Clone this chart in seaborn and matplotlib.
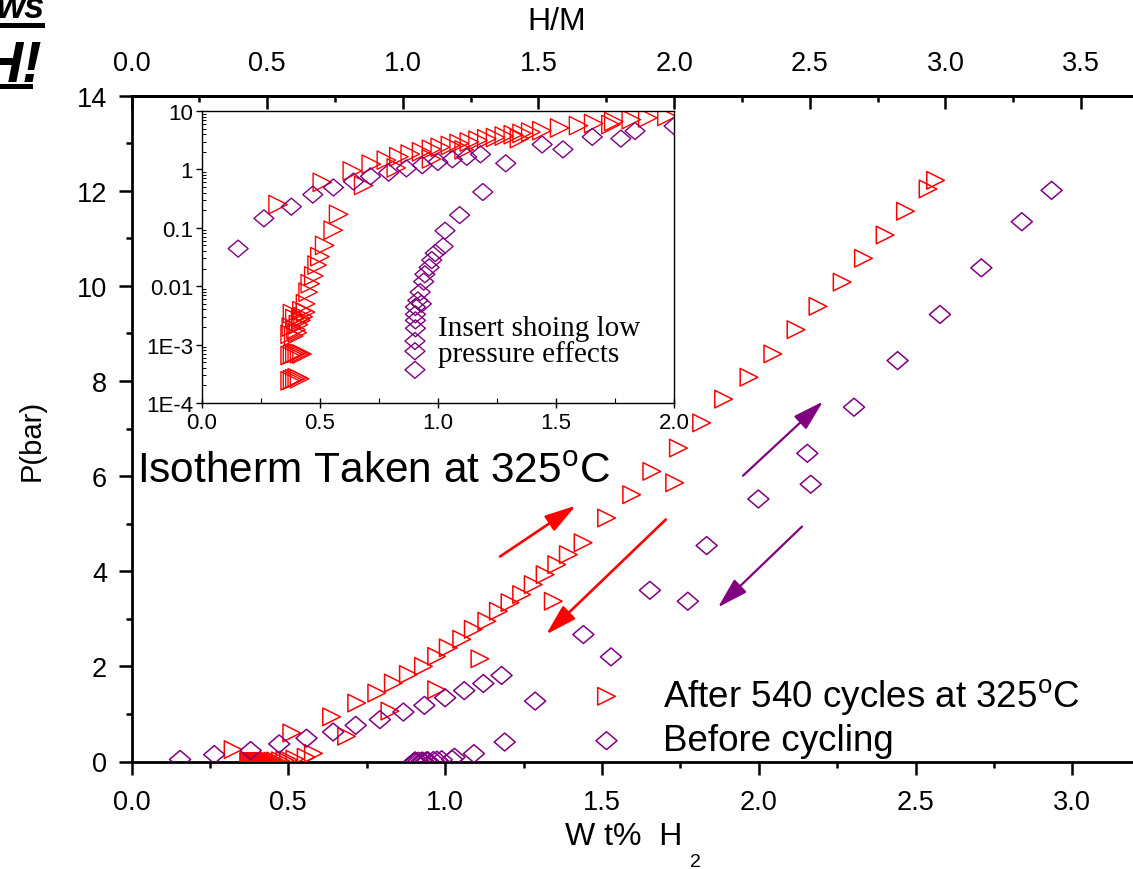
import numpy as np
import pandas as pd
import matplotlib
matplotlib.use("Agg")
import matplotlib.pyplot as plt
import seaborn as sns
from matplotlib.path import Path
from matplotlib.patches import Rectangle
from matplotlib.ticker import MultipleLocator, FixedLocator, FuncFormatter, LogLocator, NullFormatter

# ---------------- data: P(bar) vs Wt% H2 ----------------
after_abs_wt = [0.375, 0.385, 0.395, 0.405, 0.415,
                0.375, 0.385, 0.395, 0.405, 0.415, 0.425,
                0.375, 0.38, 0.385, 0.39, 0.395, 0.40, 0.405, 0.41, 0.42, 0.43, 0.44,
                0.324, 0.511, 0.638, 0.718, 0.782, 0.835, 0.883, 0.931, 0.973, 1.010,
                1.053, 1.090, 1.133, 1.170, 1.207, 1.244, 1.281, 1.319, 1.356, 1.393,
                1.440, 1.515, 1.595, 1.659, 1.744, 1.818, 1.888, 1.969, 2.045, 2.119,
                2.189, 2.266, 2.334, 2.403, 2.468, 2.564]
after_abs_p = [2.4e-4, 2.5e-4, 2.6e-4, 2.7e-4, 2.6e-4,
               6.5e-4, 6.8e-4, 7.0e-4, 7.2e-4, 7.0e-4, 6.9e-4,
               1.5e-3, 2.0e-3, 3.4e-3, 1.4e-3, 2.8e-3, 1.8e-3, 1.6e-3, 2.2e-3, 2.6e-3, 3.0e-3, 3.6e-3,
               0.25, 0.60, 0.94, 1.23, 1.44, 1.65, 1.83, 2.00, 2.21, 2.39,
               2.57, 2.78, 2.95, 3.16, 3.34, 3.51, 3.72, 3.93, 4.14, 4.35,
               4.60, 5.12, 5.61, 6.10, 6.59, 7.12, 7.62, 8.08, 8.57, 9.08,
               9.57, 10.08, 10.58, 11.07, 11.57, 12.22]

after_des_wt = [2.540, 1.732, 1.345, 1.111, 0.973, 0.824, 0.686, 0.58, 0.557, 0.521,
                0.501, 0.489, 0.475, 0.46, 0.451, 0.44, 0.425, 0.42]
after_des_p = [12.04, 5.86, 3.37, 2.16, 1.51, 1.06, 0.53, 0.17, 0.091, 0.05,
               0.032, 0.023, 0.015, 0.011, 0.0079, 0.005, 0.0038, 0.0028]

before_abs_wt = [0.155, 0.264, 0.380, 0.471, 0.558, 0.643, 0.715, 0.792, 0.867, 0.934,
                 1.000, 1.061, 1.122, 1.180, 1.441, 1.653, 1.834, 1.999, 2.155, 2.304,
                 2.443, 2.578, 2.710, 2.839, 2.934]
before_abs_p = [0.044, 0.145, 0.23, 0.37, 0.49, 0.62, 0.76, 0.88, 1.04, 1.18,
                1.34, 1.49, 1.64, 1.81, 2.67, 3.60, 4.54, 5.52, 6.48, 7.45,
                8.43, 9.40, 10.38, 11.35, 12.01]

before_des_wt = [2.166, 1.774, 1.529, 1.287, 1.190, 1.092, 1.030, 1.022, 0.989, 0.974,
                 0.963, 0.945, 0.940, 0.925, 0.915, 0.930, 0.905, 0.905, 0.905, 0.905,
                 0.903, 0.903, 0.903]
before_des_p = [5.83, 3.37, 2.20, 1.27, 0.41, 0.165, 0.089, 0.048, 0.037, 0.028,
                0.021, 0.016, 0.012, 0.0079, 0.0057, 0.005, 0.0044, 0.0033, 0.0026, 0.0019,
                0.00115, 0.00077, 0.00037]

series_labels = ["After 540 cycles at 325$^{\\mathrm{o}}$C", "Before cycling"]
inset_yticks = [1e-4, 1e-3, 1e-2, 1e-1, 1, 10]
inset_yticklabels = ["1E-4", "1E-3", "0.01", "0.1", "1", "10"]

after = pd.DataFrame({"wt": after_abs_wt + after_des_wt, "p": after_abs_p + after_des_p})
before = pd.DataFrame({"wt": before_abs_wt + before_des_wt, "p": before_abs_p + before_des_p})

# ---------------- style ----------------
sns.set_theme(style="ticks")
plt.rcParams["font.family"] = ["Liberation Sans", "DejaVu Sans"]
plt.rcParams["mathtext.fontset"] = "custom"
plt.rcParams["mathtext.rm"] = "Liberation Sans"
plt.rcParams["mathtext.it"] = "Liberation Sans:italic"
plt.rcParams["axes.edgecolor"] = "black"
plt.rcParams["text.color"] = "black"
plt.rcParams["axes.labelcolor"] = "black"
plt.rcParams["xtick.color"] = "black"
plt.rcParams["ytick.color"] = "black"
plt.rcParams["xtick.labelcolor"] = "black"
plt.rcParams["ytick.labelcolor"] = "black"

RED = "#FF0000"
PURPLE = "#800080"
diamond = Path([(-1, 0), (0, 0.85), (1, 0), (0, -0.85), (-1, 0)],
               [Path.MOVETO, Path.LINETO, Path.LINETO, Path.LINETO, Path.CLOSEPOLY])
TRI_S = 160
DIA_S = 230

W, H = 1133, 870
fig = plt.figure(figsize=(W / 100, H / 100), dpi=100)

def fx(px):
    return px / W

def fy(py):
    return 1 - py / H

# main axes (wt% scale: 313.6 px per unit, P: 47.56 px per bar)
x_max = (W - 131.5) / 313.6
ax = fig.add_axes([fx(131.5), fy(762.5), x_max * 313.6 / W, (762.5 - 96.7) / H])

sns.scatterplot(data=after, x="wt", y="p", ax=ax, marker=">", s=TRI_S,
                facecolors="none", edgecolor=RED, linewidth=1.1, label=series_labels[0],
                zorder=3)
sns.scatterplot(data=before, x="wt", y="p", ax=ax, marker=diamond, s=DIA_S,
                facecolors="none", edgecolor=PURPLE, linewidth=1.1, label=series_labels[1],
                zorder=3)

ax.set_xlim(0, x_max)
ax.set_ylim(0, 14)
ax.xaxis.set_major_locator(MultipleLocator(0.5))
ax.xaxis.set_minor_locator(MultipleLocator(0.25))
ax.yaxis.set_major_locator(MultipleLocator(2))
ax.yaxis.set_minor_locator(MultipleLocator(1))
ax.xaxis.set_major_formatter(FuncFormatter(lambda v, _: f"{v:.1f}"))
ax.yaxis.set_major_formatter(FuncFormatter(lambda v, _: f"{v:.0f}"))
for s in ax.spines.values():
    s.set_linewidth(2.0)
ax.spines["right"].set_visible(False)
ax.tick_params(axis="both", which="major", direction="out", length=9.5, width=1.8,
               labelsize=19.5, pad=8)
ax.tick_params(axis="both", which="minor", direction="out", length=4.5, width=1.8)
ax.tick_params(axis="x", which="major", pad=10)
ax.set_xlabel("")
ax.set_ylabel("")

# H/M scale on top
k = 313.6 / 271.3
top = ax.secondary_xaxis("top", functions=(lambda v: v * k, lambda v: v / k))
top.xaxis.set_major_locator(MultipleLocator(0.5))
top.xaxis.set_minor_locator(MultipleLocator(0.25))
top.xaxis.set_major_formatter(FuncFormatter(lambda v, _: f"{v:.1f}"))
top.tick_params(axis="x", which="major", direction="in", length=9.5, width=1.8,
                labelsize=19.5, pad=14)
top.tick_params(axis="x", which="minor", direction="in", length=4.5, width=1.8)
top.spines["top"].set_linewidth(2.0)

# axis titles
fig.text(fx(557), fy(22), "H/M", ha="center", va="center", fontsize=23)
fig.text(fx(32), fy(440), "P(bar)", ha="center", va="center", rotation=90, fontsize=21)
fig.text(fx(565), fy(845), "W t%  H", ha="left", va="baseline", fontsize=23)
fig.text(fx(690), fy(867), "2", ha="left", va="baseline", fontsize=14)

# annotation
fig.text(fx(137), fy(483.5), "Isotherm Taken at 325$^{\\mathrm{o}}$C", ha="left",
         va="baseline", fontsize=30.5)

# direction arrows
def arrow(tail, head, color, lw):
    ax.annotate("", xy=head, xytext=tail,
                arrowprops=dict(arrowstyle="-|>,head_length=1.9,head_width=0.55",
                                color=color, lw=lw, shrinkA=0, shrinkB=0,
                                mutation_scale=10))

arrow((1.175, 4.31), (1.417, 5.38), RED, 1.9)
arrow((1.704, 5.09), (1.322, 2.67), RED, 1.9)
arrow((1.950, 6.01), (2.205, 7.57), PURPLE, 1.6)
arrow((2.138, 4.94), (1.870, 3.24), PURPLE, 1.6)

# legend
fs_leg = 26.5
leg = ax.legend(loc="upper left", bbox_to_anchor=(fx(589), fy(677)),
                bbox_transform=fig.transFigure, frameon=False, fontsize=fs_leg,
                handlelength=0.95, handletextpad=1.05, labelspacing=0.2,
                borderpad=0, borderaxespad=0, markerscale=1.0)

# ---------------- inset: low pressure region on log scale ----------------
ins = fig.add_axes([fx(201.5), fy(404), (674.3 - 201.5) / W, (404 - 112) / H])
ins.set_facecolor("white")
sns.scatterplot(data=after, x="wt", y="p", ax=ins, marker=">", s=TRI_S * 1.1,
                facecolors="none", edgecolor=RED, linewidth=1.0, legend=False)
sns.scatterplot(data=before, x="wt", y="p", ax=ins, marker=diamond, s=DIA_S * 0.9,
                facecolors="none", edgecolor=PURPLE, linewidth=1.0, legend=False)
ins.set_yscale("log")
ins.set_xlim(0, 2.0)
ins.set_ylim(1e-4, 10)
ins.xaxis.set_major_locator(MultipleLocator(0.5))
ins.xaxis.set_minor_locator(MultipleLocator(0.25))
ins.xaxis.set_major_formatter(FuncFormatter(lambda v, _: f"{v:.1f}"))
ins.yaxis.set_major_locator(FixedLocator(inset_yticks))
ins.yaxis.set_minor_locator(LogLocator(base=10, subs=np.arange(2, 10), numticks=20))
ins.yaxis.set_minor_formatter(NullFormatter())
ins.set_yticklabels(inset_yticklabels)
ins.set_xlabel("")
ins.set_ylabel("")
for s in ins.spines.values():
    s.set_linewidth(1.0)
ins.tick_params(axis="x", which="major", direction="inout", length=7, width=1.0,
                labelsize=16, pad=3)
ins.tick_params(axis="x", which="minor", direction="in", length=3.5, width=0.8)
ins.tick_params(axis="y", which="major", direction="out", length=4, width=1.0,
                labelsize=16, pad=2)
ins.tick_params(axis="y", which="minor", direction="in", length=3, width=0.7)
ins.text(fx(438), fy(362.5), "Insert shoing low\npressure effects", transform=fig.transFigure,
         ha="left", va="baseline", fontsize=21, family=["Liberation Serif", "DejaVu Serif"],
         linespacing=1.0)

# corner badge
fig.text(fx(45), fy(18), "ws", ha="right", va="baseline", fontsize=26,
         fontweight="bold", fontstyle="italic", color="black")
fig.text(fx(43), fy(82), "H!", ha="right", va="baseline", fontsize=42,
         fontweight="bold", fontstyle="italic", color="black")
fig.add_artist(Rectangle((0, fy(28.5)), fx(45), 5 / H, transform=fig.transFigure,
                         facecolor="black", edgecolor="none"))
fig.add_artist(Rectangle((0, fy(89.5)), fx(33), 4.5 / H, transform=fig.transFigure,
                         facecolor="black", edgecolor="none"))

fig.savefig("out.png", dpi=100)
